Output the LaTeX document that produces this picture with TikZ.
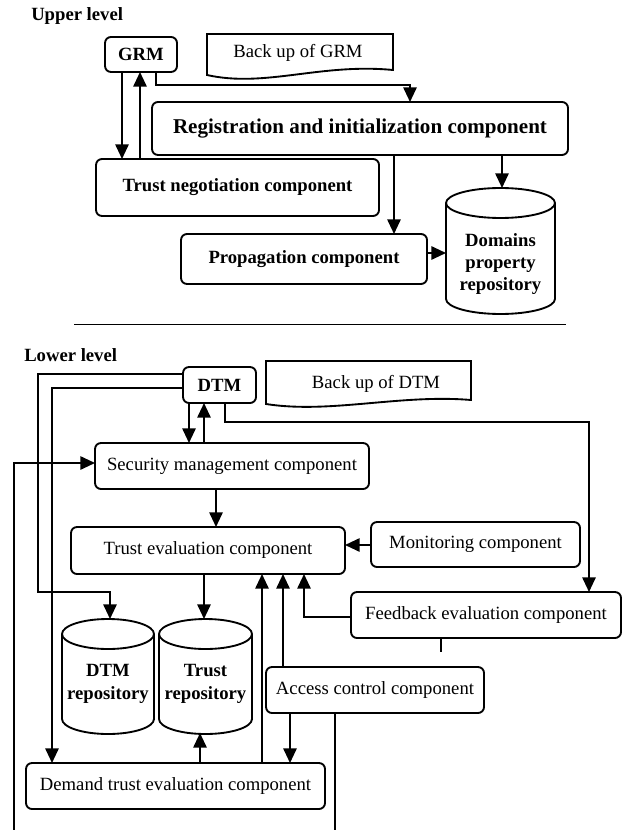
\documentclass[tikz,border=0pt]{standalone}
\usepackage{fontspec}
\setmainfont{Liberation Serif}
\usetikzlibrary{arrows.meta,calc}
\begin{document}
\begin{tikzpicture}[x=0.75pt,y=-0.75pt,
  box/.style={draw, rounded corners=4.5pt, line width=1.4pt, inner sep=0pt, outer sep=0pt, fill=white, font=\fontsize{14}{16}\selectfont},
  bbox/.style={box, font=\fontsize{14}{16}\selectfont\bfseries},
  ghost/.style={inner sep=0pt, outer sep=0pt},
  txt/.style={inner sep=0pt, font=\fontsize{14}{16}\selectfont},
  btxt/.style={inner sep=0pt, align=center, font=\fontsize{14}{16.5}\selectfont\bfseries},
  lbl/.style={inner sep=0pt, anchor=west, font=\fontsize{14}{16}\selectfont\bfseries},
  arr/.style={line width=1.4pt, -{Triangle[length=11pt,width=10pt]}},
  ln/.style={line width=1.4pt},
  shp/.style={line width=1.4pt, fill=white}]
\useasboundingbox (0,0) rectangle (623,830);

% ---------------- Upper level ----------------
\node[lbl] (ul) at (31,16) {Upper level};

\node[bbox, minimum width=54pt, minimum height=26.25pt] (grm) at (141,54.5) {GRM};
\draw[shp] (207,75) -- (207,34) -- (393,34) -- (393,70)
  .. controls (320,63) and (265,88) .. (207,75) -- cycle;
\node[txt] (bgrm) at (298,53) {Back up of GRM};

\node[box, font=\fontsize{15.8}{18}\selectfont\bfseries, minimum width=312pt, minimum height=39.75pt] (reg) at (360,128.5) {Registration and initialization component};
\node[bbox, minimum width=212.25pt, minimum height=42.75pt] (tn) at (237.5,187.5) {Trust negotiation component};
\node[bbox, minimum width=184.5pt, minimum height=37.5pt] (prop) at (304,259) {Propagation component};

% Domains property repository cylinder
\node[ghost, minimum width=81.75pt, minimum height=94.5pt] (dpr) at (500.5,251) {};
\filldraw[shp] (446,203) -- (446,299)
  arc[start angle=180, end angle=360, x radius=40.875pt, y radius=11.25pt]
  -- (555,203)
  arc[start angle=0, end angle=180, x radius=40.875pt, y radius=11.25pt] -- cycle;
\draw[ln] (446,203) arc[start angle=180, end angle=360, x radius=40.875pt, y radius=11.25pt];
\node[btxt] (dprt) at (500.5,264) {Domains\\property\\repository};

% upper connectors
\draw[arr] (grm.south -| 156,0) |- (410,85) -- (reg.north -| 410,0);
\draw[arr] (grm.south -| 122,0) -- (tn.north -| 122,0);
\draw[arr] (tn.north -| 140,0) -- (grm.south -| 140,0);
\draw[arr] (reg.south -| 394,0) -- (prop.north -| 394,0);
\draw[arr] (reg.south -| 502,0) -- (dpr.north -| 502,0);
\draw[arr] (prop.east |- 0,253) -- (dpr.west |- 0,253);

% separator
\draw[line width=0.7pt] (74,324) -- (566,324);

% ---------------- Lower level ----------------
\node[lbl] (ll) at (24,355) {Lower level};

\node[bbox, minimum width=54.75pt, minimum height=27pt] (dtm) at (219.5,385) {DTM};
\draw[shp] (266,404) -- (266,361) -- (471,361) -- (471,400)
  .. controls (400,394) and (330,414) .. (266,404) -- cycle;
\node[txt] (bdtm) at (376,384) {Back up of DTM};

\node[box, minimum width=205.5pt, minimum height=34.5pt] (sec) at (232,466) {Security management component};
\node[box, minimum width=205.5pt, minimum height=35.25pt] (te) at (208,550.5) {Trust evaluation component};
\node[box, minimum width=156.75pt, minimum height=33.75pt] (mon) at (475.5,544.5) {Monitoring component};
\node[box, minimum width=202.5pt, minimum height=34.5pt] (fb) at (486,615) {Feedback evaluation component};
\node[box, minimum width=163.5pt, minimum height=34.5pt] (ac) at (375,690) {Access control component};
\node[box, minimum width=224.25pt, minimum height=34.5pt] (dem) at (175.5,786) {Demand trust evaluation component};

% DTM repository cylinder
\node[ghost, minimum width=69pt, minimum height=85.5pt] (dr) at (108,676) {};
\filldraw[shp] (62,634) -- (62,719)
  arc[start angle=180, end angle=360, x radius=34.5pt, y radius=11.25pt]
  -- (154,634)
  arc[start angle=0, end angle=180, x radius=34.5pt, y radius=11.25pt] -- cycle;
\draw[ln] (62,634) arc[start angle=180, end angle=360, x radius=34.5pt, y radius=11.25pt];
\node[btxt, font=\fontsize{14}{17}\selectfont\bfseries] (drt) at (108,684) {DTM\\repository};

% Trust repository cylinder
\node[ghost, minimum width=69.75pt, minimum height=85.5pt] (tr) at (205.5,676) {};
\filldraw[shp] (159,634) -- (159,719)
  arc[start angle=180, end angle=360, x radius=34.875pt, y radius=11.25pt]
  -- (252,634)
  arc[start angle=0, end angle=180, x radius=34.875pt, y radius=11.25pt] -- cycle;
\draw[ln] (159,634) arc[start angle=180, end angle=360, x radius=34.875pt, y radius=11.25pt];
\node[btxt, font=\fontsize{14}{17}\selectfont\bfseries] (trt) at (205.5,684) {Trust\\repository};

\coordinate (b1) at (14,830);
\coordinate (b2) at (335,830);
\coordinate (stub) at (441,652);

% lower connectors
\draw[arr] (dtm.west |- 0,374) -- (38,374) -- (38,592) -- (110,592) -- (dr.north -| 110,0);
\draw[arr] (dtm.west |- 0,388) -- (52,388) -- (dem.north -| 52,0);
\draw[arr] (b1) -- (14,463) -- (sec.west |- 0,463);
\draw[arr] (dtm.south -| 189,0) -- (sec.north -| 189,0);
\draw[arr] (sec.north -| 204,0) -- (dtm.south -| 204,0);
\draw[arr] (dtm.south -| 225,0) |- (589,422) -- (fb.north -| 589,0);
\draw[arr] (sec.south -| 216,0) -- (te.north -| 216,0);
\draw[arr] (mon.west |- 0,545) -- (te.east |- 0,545);
\draw[arr] (te.south -| 204,0) -- (tr.north -| 204,0);
\draw[arr] (dem.north -| 262,0) -- (te.south -| 262,0);
\draw[arr] (ac.north -| 283,0) -- (te.south -| 283,0);
\draw[arr] (fb.west |- 0,617) -| (te.south -| 304,0);
\draw[ln] (fb.south -| 441,0) -- (stub);
\draw[arr] (ac.south -| 290,0) -- (dem.north -| 290,0);
\draw[ln] (ac.south -| 335,0) -- (b2);
\draw[arr] (dem.north -| 200,0) -- (tr.south -| 200,0);
\end{tikzpicture}
\end{document}
